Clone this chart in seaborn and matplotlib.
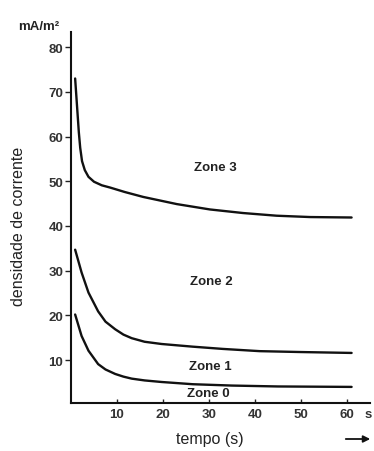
import matplotlib
matplotlib.use("Agg")
import matplotlib.pyplot as plt
import pandas as pd
import seaborn as sns

# ---- data ----
zone3_t = [0.9, 1.3, 1.7, 2.0, 2.4, 3.0, 3.8, 5.0, 6.7, 8.5, 11.7, 15.7, 23.0, 30.2, 37.4, 44.7, 52.0, 61.0]
zone3_v = [73.0, 67.0, 61.0, 57.5, 54.5, 52.5, 51.0, 49.9, 49.1, 48.6, 47.6, 46.5, 44.9, 43.7, 42.9, 42.3, 42.0, 41.9]

zone2_t = [0.9, 2.3, 3.8, 5.9, 7.5, 9.6, 11.4, 13.2, 16.0, 19.7, 26.5, 33.0, 41.0, 50.0, 61.0]
zone2_v = [34.7, 29.6, 25.1, 20.9, 18.6, 16.9, 15.7, 14.9, 14.1, 13.6, 13.0, 12.5, 12.0, 11.8, 11.6]

zone1_t = [0.9, 2.3, 3.8, 5.9, 7.5, 9.6, 11.4, 13.2, 16.0, 19.7, 26.5, 35.0, 45.0, 61.0]
zone1_v = [20.2, 15.4, 12.1, 9.1, 7.9, 6.9, 6.3, 5.85, 5.45, 5.1, 4.6, 4.3, 4.1, 4.0]

zone_names = ["Zone 3", "Zone 2", "Zone 1", "Zone 0"]
zone_label_t = [31.3, 30.6, 30.2, 29.8]
zone_label_v = [53.2, 27.7, 8.65, 2.6]

x_ticks = [10, 20, 30, 40, 50, 60]
x_ticklabels = ["10", "20", "30", "40", "50", "60"]
y_ticks = [10, 20, 30, 40, 50, 60, 70, 80]
y_ticklabels = ["10", "20", "30", "40", "50", "60", "70", "80"]

frames = []
for name, t, v in [("c3", zone3_t, zone3_v), ("c2", zone2_t, zone2_v), ("c1", zone1_t, zone1_v)]:
    frames.append(pd.DataFrame({"curve": name, "t": t, "v": v}))
df = pd.concat(frames, ignore_index=True)

sns.set_style("white")
plt.rcParams["font.family"] = ["Liberation Sans", "DejaVu Sans"]

fig = plt.figure(figsize=(3.74, 4.52), dpi=100)
ax = fig.add_axes([71 / 374, 48 / 452, 299 / 374, 371 / 452])

sns.lineplot(data=df, x="t", y="v", hue="curve", units="curve", estimator=None,
             palette={"c3": "#111111", "c2": "#111111", "c1": "#111111"},
             linewidth=1.7, legend=False, ax=ax, sort=False)
for ln in ax.lines:
    ln.set_solid_joinstyle("round")
    ln.set_solid_capstyle("round")

ax.set_xlim(0, 65)
ax.set_ylim(0.4, 83.4)

for s in ["top", "right"]:
    ax.spines[s].set_visible(False)
for s in ["left", "bottom"]:
    ax.spines[s].set_linewidth(1.5)
    ax.spines[s].set_color("#111111")

ax.set_xticks(x_ticks)
ax.set_xticklabels(x_ticklabels, fontsize=9.5, fontweight="bold", color="#333333")
ax.set_yticks(y_ticks)
ax.set_yticklabels(y_ticklabels, fontsize=9.5, fontweight="bold", color="#333333")
ax.tick_params(axis="y", direction="out", length=4, width=1, pad=1.5, left=True, color="#222222")
ax.tick_params(axis="x", direction="in", length=3, width=1, pad=3.5, bottom=True, color="#222222")

# "s" unit after 60
ax.annotate("s", xy=(60, 0), xycoords=("data", "axes fraction"), xytext=(15, -3.5),
            textcoords="offset points", ha="center", va="top", fontsize=9.5,
            fontweight="bold", color="#333333")

ax.set_xlabel("tempo (s)", fontsize=11.5, color="#222222")
ax.xaxis.set_label_coords((210 - 71) / 299, -(440 - 404) / 371)
ax.xaxis.label.set_va("center")
ax.set_ylabel("densidade de corrente", fontsize=11.5, color="#222222")
ax.yaxis.set_label_coords(-(71 - 19) / 299, (404 - 226) / 371)
ax.yaxis.label.set_va("center")

for name, t, v in zip(zone_names, zone_label_t, zone_label_v):
    ax.text(t, v, name, ha="center", va="center", fontsize=9.5, fontweight="bold", color="#222222")

fig.text(39 / 374, 1 - 27 / 452, "mA/m²", ha="center", va="center", fontsize=9.5,
         fontweight="bold", color="#222222")

ax.annotate("", xy=(373 / 374, 1 - 440 / 452), xytext=(343 / 374, 1 - 440 / 452),
            xycoords="figure fraction", textcoords="figure fraction",
            arrowprops=dict(arrowstyle="-|>", color="#111111", lw=1.3, mutation_scale=10))

fig.savefig("out.png", dpi=100)
